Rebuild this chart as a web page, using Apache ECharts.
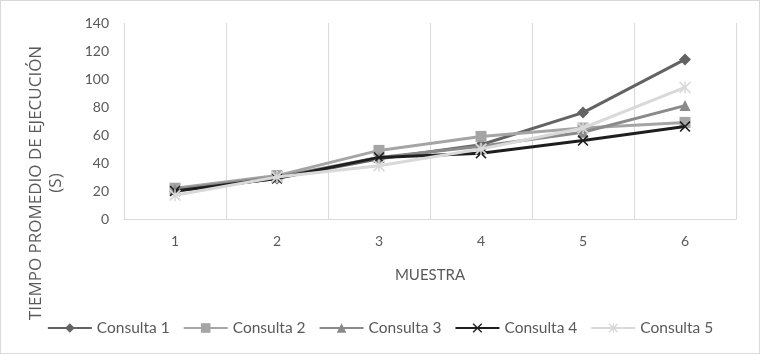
<!DOCTYPE html>
<html>
<head>
<meta charset="utf-8">
<script src="https://cdn.jsdelivr.net/npm/echarts@6/dist/echarts.min.js"></script>
<style>
html,body{margin:0;padding:0;background:#fff;}
#c{width:760px;height:354px;box-sizing:border-box;border:1px solid #d9d9d9;}
</style>
</head>
<body>
<div id="c"></div>
<script>
var categories = ['1', '2', '3', '4', '5', '6'];
var consulta1 = [20, 29, 43, 53, 76, 114];
var consulta2 = [22, 31, 49, 59, 65, 69];
var consulta3 = [21, 30, 44, 52, 62, 81];
var consulta4 = [20, 29, 44, 47, 56, 66];
var consulta5 = [17, 30, 38, 50, 65, 94];
var seriesNames = ['Consulta 1', 'Consulta 2', 'Consulta 3', 'Consulta 4', 'Consulta 5'];
var yTicks = [0, 20, 40, 60, 80, 100, 120, 140];

var FONT = 'Lato, "Open Sans", sans-serif';
var xPath = 'path://M0,1 L1,0 L5,4 L9,0 L10,1 L6,5 L10,9 L9,10 L5,6 L1,10 L0,9 L4,5 Z';
var starPath = 'path://M0,1 L1,0 L5,4 L9,0 L10,1 L6,5 L10,9 L9,10 L5,6 L1,10 L0,9 L4,5 Z M4.4,0 L5.6,0 L5.6,10 L4.4,10 Z';

var colors = ['#636363', '#a5a5a5', '#8a8a8a', '#1e1e1e', '#d9d9d9'];
var symbols = ['diamond', 'rect', 'triangle', xPath, starPath];
var sizes = [12, 11, 11, 11, 12];
var datas = [consulta1, consulta2, consulta3, consulta4, consulta5];

var series = datas.map(function (d, i) {
  return {
    name: seriesNames[i],
    type: 'line',
    data: d,
    symbol: symbols[i],
    symbolSize: sizes[i],
    showAllSymbol: true,
    lineStyle: { color: colors[i], width: 3 },
    itemStyle: { color: colors[i] },
    emphasis: { disabled: true },
    z: 2 + i
  };
});

var chart = echarts.init(document.getElementById('c'), null, { renderer: 'canvas' });
chart.setOption({
  animation: false,
  backgroundColor: '#ffffff',
  grid: { left: 123, right: 23, top: 22, bottom: 134, containLabel: false },
  xAxis: {
    type: 'category',
    data: categories,
    boundaryGap: true,
    axisLine: { show: true, lineStyle: { color: '#d9d9d9', width: 1 } },
    axisTick: { show: false },
    splitLine: { show: true, lineStyle: { color: '#d9d9d9', width: 1 } },
    axisLabel: { color: '#595959', fontSize: 14, fontFamily: FONT, margin: 15 },
    name: 'MUESTRA',
    nameLocation: 'middle',
    nameGap: 49,
    nameTextStyle: { color: '#595959', fontSize: 15, fontFamily: FONT }
  },
  yAxis: {
    type: 'value',
    min: yTicks[0],
    max: yTicks[yTicks.length - 1],
    interval: 20,
    axisLine: { show: false },
    axisTick: { show: false },
    splitLine: { show: false },
    axisLabel: { color: '#595959', fontSize: 14, fontFamily: FONT, margin: 15 }
  },
  legend: {
    data: seriesNames,
    left: 'center',
    top: 314,
    itemWidth: 44,
    itemHeight: 12,
    itemGap: 13,
    textStyle: { color: '#595959', fontSize: 15.5, fontFamily: FONT },
    selectedMode: false
  },
  graphic: [{
    type: 'text',
    x: 45,
    y: 182,
    rotation: Math.PI / 2,
    silent: true,
    style: {
      text: 'TIEMPO PROMEDIO DE EJECUCIÓN\n(S)',
      fill: '#595959',
      font: '17px "Open Sans", sans-serif',
      align: 'center',
      verticalAlign: 'middle',
      lineHeight: 20
    }
  }],
  series: series
});
</script>
</body>
</html>
